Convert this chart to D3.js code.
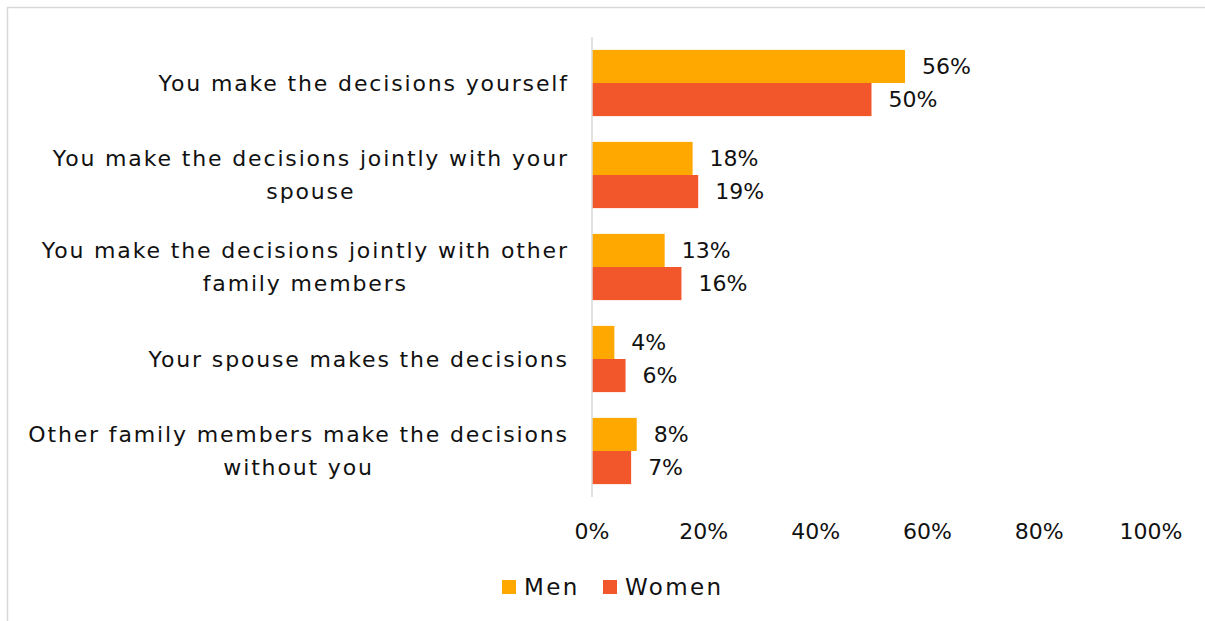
<!DOCTYPE html>
<html>
<head>
<meta charset="utf-8">
<script src="https://cdn.jsdelivr.net/npm/d3@7"></script>
<style>
  html, body { margin: 0; padding: 0; background: #fff; }
  svg { display: block; }
  text { font-family: "DejaVu Sans", sans-serif; fill: #111; }
</style>
</head>
<body>
<svg id="chart" width="1205" height="621"></svg>
<script>
// ── Data ──────────────────────────────────────────────────────────
const categories = [
  ['You make the decisions yourself'],
  ['You make the decisions jointly with your', 'spouse'],
  ['You make the decisions jointly with other', 'family members'],
  ['Your spouse makes the decisions'],
  ['Other family members make the decisions', 'without you']
];
const menValues   = [56, 18, 13, 4, 8];
const womenValues = [50, 19, 16, 6, 7];
const xTicks      = [0, 20, 40, 60, 80, 100];
const seriesNames = ['Men', 'Women'];
const seriesColors = ['#FFA800', '#F2572B'];

// ── Scaffolding ───────────────────────────────────────────────────
const svg = d3.select('#chart');

// outer frame (runs past the right/bottom edge in the original)
svg.append('rect')
  .attr('x', 7.5).attr('y', 7.5)
  .attr('width', 1215).attr('height', 630)
  .attr('fill', 'none')
  .attr('stroke', '#d9d9d9')
  .attr('stroke-width', 1.5);

const x = d3.scaleLinear().domain([0, 100]).range([592, 1151]);
const y = d3.scaleBand().domain(d3.range(categories.length)).range([37, 497]).paddingInner(0.28).paddingOuter(0.14);
const ySub = d3.scaleBand().domain([0, 1]).range([0, y.bandwidth()]);

const FS = 22;
const SPACING = 1.85;   // widen text toward the original's geometric face

// ── Bars ──────────────────────────────────────────────────────────
const rows = categories.map((c, i) => ({ i, vals: [menValues[i], womenValues[i]] }));

const groups = svg.append('g').selectAll('g')
  .data(rows)
  .join('g')
  .attr('transform', d => `translate(0,${y(d.i)})`);

groups.selectAll('rect')
  .data(d => d.vals.map((v, s) => ({ v, s })))
  .join('rect')
  .attr('x', x(0))
  .attr('y', d => ySub(d.s))
  .attr('width', d => x(d.v) - x(0))
  .attr('height', ySub.bandwidth())
  .attr('fill', d => seriesColors[d.s]);

groups.selectAll('text.val')
  .data(d => d.vals.map((v, s) => ({ v, s })))
  .join('text')
  .attr('class', 'val')
  .attr('x', d => x(d.v) + 17)
  .attr('y', d => ySub(d.s) + ySub.bandwidth() / 2)
  .attr('dy', '0.36em')
  .attr('font-size', FS)
  .text(d => d.v + '%');

// ── Vertical axis line ────────────────────────────────────────────
svg.append('line')
  .attr('x1', x(0)).attr('x2', x(0))
  .attr('y1', 37).attr('y2', 497)
  .attr('stroke', '#d9d9d9')
  .attr('stroke-width', 1.5);

// ── Category labels (block right-aligned, lines centred) ─────────
const lineH = 33;
const labelRight = 567;
svg.append('g').selectAll('text')
  .data(categories)
  .join('text')
  .attr('font-size', FS)
  .attr('letter-spacing', SPACING)
  .attr('text-anchor', 'middle')
  .attr('transform', (d, i) => `translate(0,${y(i) + y.bandwidth() / 2})`)
  .each(function(lines) {
    const t = d3.select(this);
    const off = -(lines.length - 1) * lineH / 2;
    const spans = lines.map((ln, k) => t.append('tspan')
      .attr('y', off + k * lineH)
      .attr('dy', '0.36em')
      .text(ln));
    const w = d3.max(spans, s => s.node().getComputedTextLength()) - SPACING;
    spans.forEach(s => s.attr('x', labelRight - w / 2 + SPACING / 2));
  });

// ── X tick labels ─────────────────────────────────────────────────
svg.append('g').selectAll('text')
  .data(xTicks)
  .join('text')
  .attr('x', d => x(d))
  .attr('y', 531)
  .attr('dy', '0.36em')
  .attr('text-anchor', 'middle')
  .attr('font-size', FS)
  .text(d => d + '%');

// ── Legend ────────────────────────────────────────────────────────
const legendX = [502, 603];
const legend = svg.append('g').selectAll('g')
  .data(seriesNames)
  .join('g')
  .attr('transform', (d, i) => `translate(${legendX[i]},580)`);
legend.append('rect')
  .attr('width', 14).attr('height', 14)
  .attr('fill', (d, i) => seriesColors[i]);
legend.append('text')
  .attr('x', 22).attr('y', 7)
  .attr('dy', '0.36em')
  .attr('font-size', 23)
  .attr('letter-spacing', 2.4)
  .text(d => d);
</script>
</body>
</html>
